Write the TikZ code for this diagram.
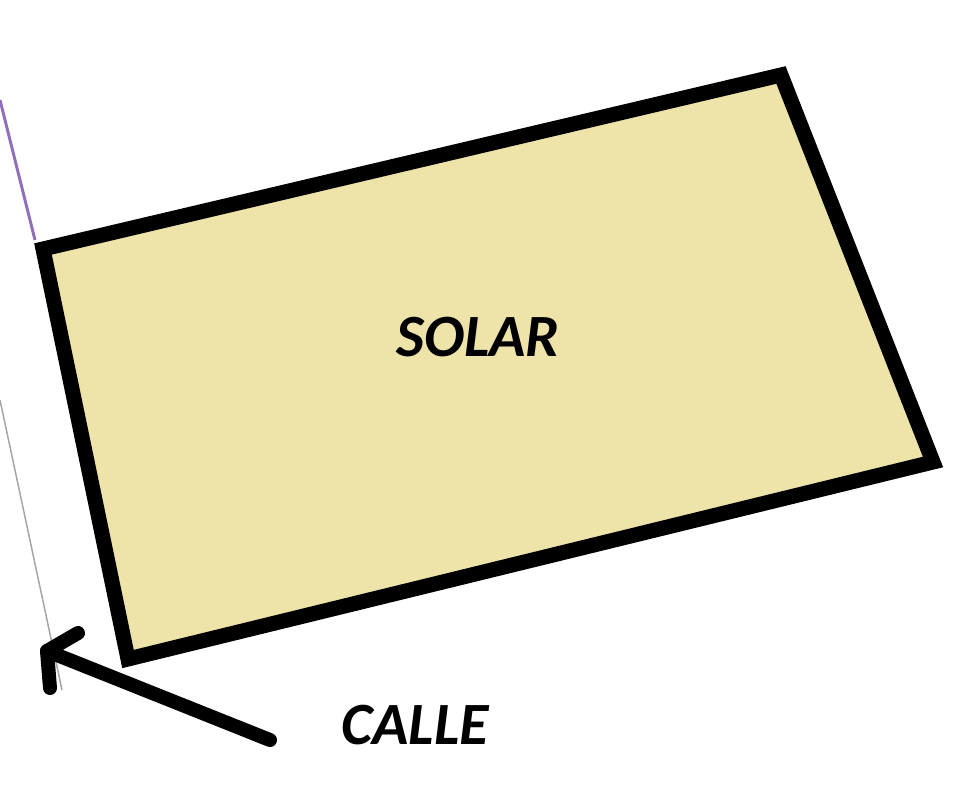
\documentclass[tikz,border=0pt]{standalone}
\usepackage{fontspec}
\setmainfont{Carlito}
\usepackage{tikz}
\pgfdeclarelayer{edgelayer}
\pgfdeclarelayer{nodelayer}
\pgfsetlayers{edgelayer,nodelayer,main}
\definecolor{solarfill}{RGB}{238,228,170}
\definecolor{lindero}{RGB}{145,110,185}
\tikzstyle{none} = [inner sep=0pt]
\tikzstyle{label} = [inner sep=0pt, font=\fontsize{60}{62}\selectfont\bfseries\itshape]
\tikzstyle{border} = [line width=15pt, line join=miter, draw=black, fill=solarfill]
\tikzstyle{pointer} = [line width=14pt, line cap=round, line join=round]

\begin{document}
\begin{tikzpicture}[x=1pt, y=-1pt]
	\useasboundingbox (0, 0) rectangle (976, 800);
	\begin{pgfonlayer}{nodelayer}
		\node [style=none] (0) at (43, 249) {};
		\node [style=none] (1) at (781, 75) {};
		\node [style=none] (2) at (933, 462) {};
		\node [style=none] (3) at (128, 659) {};
		\node [style=none] (4) at (270, 740) {};
		\node [style=none] (5) at (47, 651) {};
		\node [style=none] (6) at (78, 633) {};
		\node [style=none] (7) at (50, 688) {};
		\node [style=none] (8) at (0, 100) {};
		\node [style=none] (9) at (35, 240) {};
		\node [style=none] (10) at (0, 400) {};
		\node [style=none] (11) at (62, 690) {};
		\node [style=label] (12) at (478, 337) {SOLAR};
		\node [style=label] (13) at (415, 725) {CALLE};
	\end{pgfonlayer}
	\begin{pgfonlayer}{edgelayer}
		\draw [draw=lindero, line width=3pt] (8.center) to (9.center);
		\draw [draw=gray!70, line width=1.5pt] (10.center) to (11.center);
		\draw [style=border] (0.center) -- (1.center) -- (2.center) -- (3.center) -- cycle;
		\draw [style=pointer] (4.center) to (5.center);
		\draw [style=pointer] (6.center) -- (5.center) -- (7.center);
	\end{pgfonlayer}
\end{tikzpicture}
\end{document}
